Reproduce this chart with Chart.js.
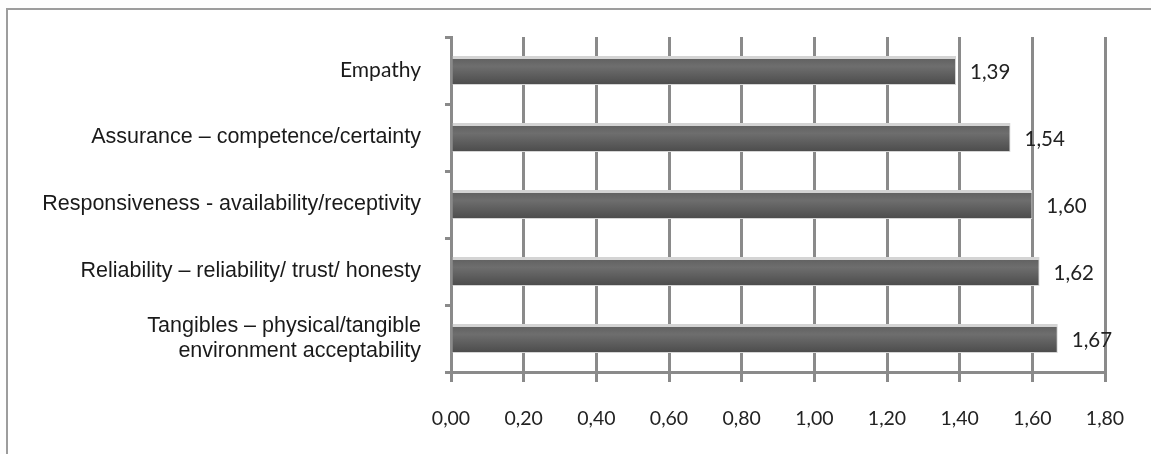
<!DOCTYPE html>
<html>
<head>
<meta charset="utf-8">
<script src="https://cdn.jsdelivr.net/npm/chart.js@4/dist/chart.umd.min.js"></script>
<style>
html,body{margin:0;padding:0;background:#fdfdfd;}
#wrap{position:relative;width:1151px;height:454px;}
</style>
</head>
<body>
<div id="wrap"><canvas id="c" width="1151" height="454"></canvas></div>
<script>
const categories = [
  "Empathy",
  "Assurance \u2013 competence/certainty",
  "Responsiveness - availability/receptivity",
  "Reliability \u2013 reliability/ trust/ honesty",
  ["Tangibles \u2013 physical/tangible", "environment acceptability"]
];
const values = [1.39, 1.54, 1.60, 1.62, 1.67];
const valueLabels = ["1,39", "1,54", "1,60", "1,62", "1,67"];
const xMin = 0, xMax = 1.8, xStep = 0.2;

const GRID = '#8a8a8a';

const framePlugin = {
  id: 'frame',
  beforeDraw(chart) {
    const ctx = chart.ctx;
    ctx.save();
    ctx.fillStyle = '#ffffff';
    ctx.fillRect(7, 9, chart.width - 7, chart.height - 9);
    ctx.strokeStyle = '#9c9c9c';
    ctx.lineWidth = 2;
    ctx.beginPath();
    ctx.moveTo(7, chart.height);
    ctx.lineTo(7, 9);
    ctx.lineTo(chart.width, 9);
    ctx.stroke();
    ctx.restore();
  }
};

const valuePlugin = {
  id: 'vals',
  afterDatasetsDraw(chart) {
    const ctx = chart.ctx;
    const meta = chart.getDatasetMeta(0);
    ctx.save();
    ctx.font = '20.5px Lato';
    ctx.fillStyle = '#222';
    ctx.textAlign = 'left';
    ctx.textBaseline = 'middle';
    meta.data.forEach((bar, i) => {
      ctx.fillText(valueLabels[i], bar.x + 14, bar.y + 2);
    });
    ctx.restore();
  }
};

function barFill(context) {
  const chart = context.chart;
  const ys = chart.scales.y;
  if (!ys || !chart.chartArea) return '#606060';
  const c = ys.getPixelForValue(context.dataIndex);
  const g = chart.ctx.createLinearGradient(0, c - 14, 0, c + 14);
  g.addColorStop(0, '#5e5e5e');
  g.addColorStop(0.35, '#6e6e6e');
  g.addColorStop(1, '#4c4c4c');
  return g;
}

new Chart(document.getElementById('c'), {
  type: 'bar',
  data: {
    labels: categories,
    datasets: [{
      data: values,
      backgroundColor: barFill,
      borderColor: '#d4d4d4',
      borderWidth: {top: 3, bottom: 1, left: 0, right: 1},
      borderSkipped: false,
      barPercentage: 0.43,
      categoryPercentage: 1
    }]
  },
  options: {
    indexAxis: 'y',
    responsive: false,
    animation: false,
    events: [],
    layout: {padding: {top: 37, right: 46, bottom: 0, left: 0}},
    plugins: {legend: {display: false}, tooltip: {enabled: false}},
    scales: {
      x: {
        min: xMin, max: xMax,
        ticks: {
          stepSize: xStep,
          color: '#222',
          font: {family: 'Lato', size: 19.5},
          padding: 25,
          callback: (v) => Number(v).toFixed(2).replace('.', ',')
        },
        grid: {color: GRID, lineWidth: 3, tickLength: 10, drawTicks: true},
        border: {display: true, color: GRID, width: 3},
        afterFit(s) { s.height = 82; s.paddingLeft = 0; s.paddingRight = 0; }
      },
      y: {
        ticks: {
          color: '#1a1a1a',
          padding: 24,
          font: (ctx) => ctx.index === 0
            ? {family: 'Lato', size: 21, lineHeight: 1.2}
            : {family: 'Liberation Sans', size: 21.5, lineHeight: 1.17}
        },
        grid: {color: GRID, lineWidth: 3, drawOnChartArea: false, tickLength: 6, offset: true},
        border: {display: true, color: GRID, width: 3},
        afterFit(s) { s.width = 451; s.paddingTop = 0; s.paddingBottom = 0; }
      }
    }
  },
  plugins: [framePlugin, valuePlugin]
});
</script>
</body>
</html>
